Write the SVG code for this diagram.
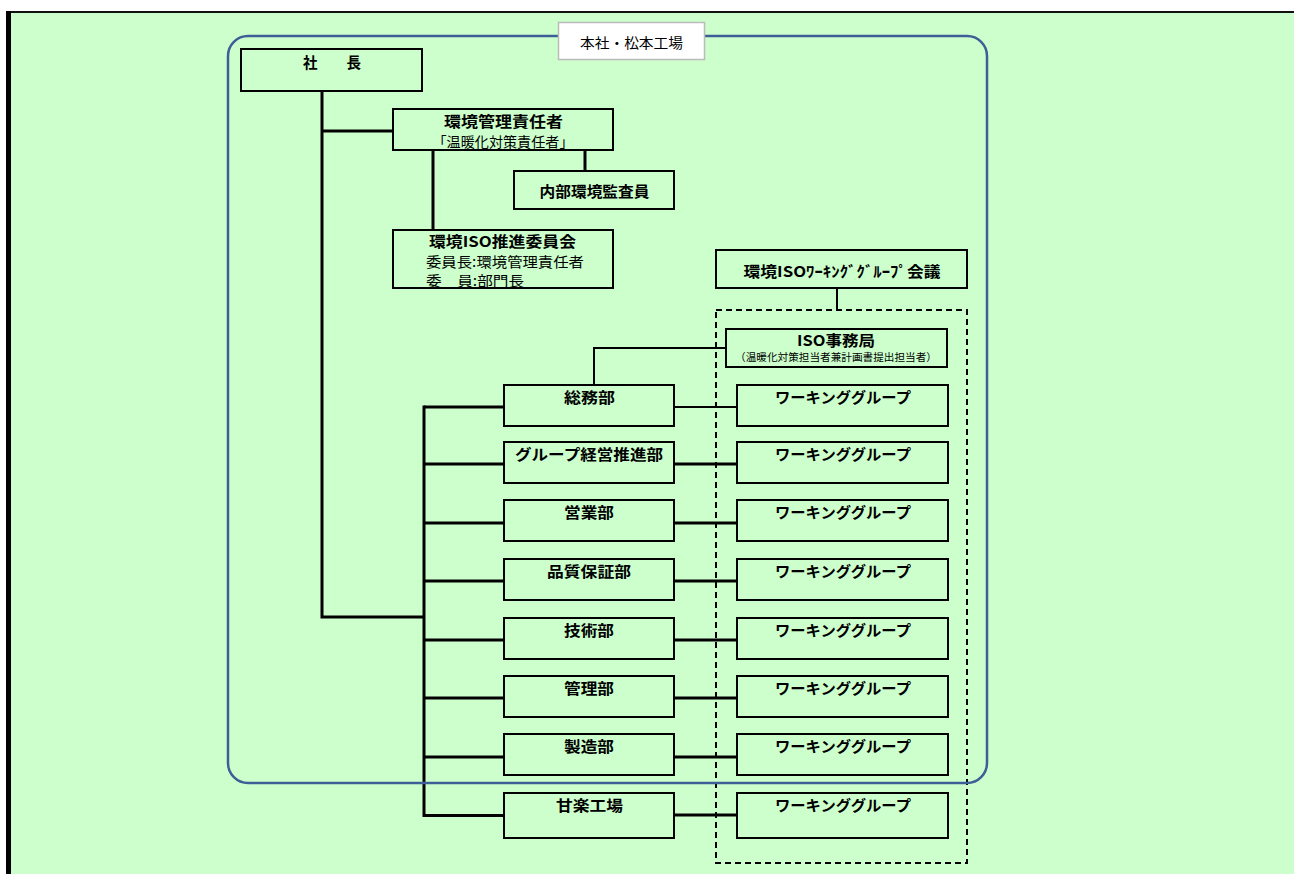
<svg xmlns="http://www.w3.org/2000/svg" width="1294" height="874" viewBox="0 0 1294 874">
<style>
  .box{fill:#CCFFCC;stroke:#000;stroke-width:2}
  .t{font-family:"Noto Sans CJK JP","Noto Sans",sans-serif;fill:#000;text-anchor:middle}
  .b{font-weight:bold;font-size:15px}
  .n{font-weight:normal;font-size:14px}
  .s{font-weight:normal;font-size:10.5px}
  .c3{fill:none;stroke:#000;stroke-width:3}
  .c2{fill:none;stroke:#000;stroke-width:2}
</style>
<rect x="0" y="0" width="1294" height="874" fill="#FFFFFF"/>
<rect x="9" y="12" width="1285" height="862" fill="#CCFFCC"/>
<line x1="7" y1="12" x2="1294" y2="12" stroke="#111" stroke-width="2"/>
<line x1="8.5" y1="11" x2="8.5" y2="874" stroke="#000" stroke-width="5"/>

<g id="connectors">
  <path class="c3" d="M322 92 V617 H424"/>
  <path class="c3" d="M322 131 H392"/>
  <path class="c3" d="M433 151 V229"/>
  <path class="c3" d="M585 151 V170"/>
  <path class="c2" d="M837 289 V309"/>
  <path class="c2" d="M725 348 H594 V384"/>
  <path class="c3" d="M424 405.5 V817"/>
  <path class="c3" d="M424 407 H503"/>
  <path class="c3" d="M424 464 H503"/>
  <path class="c3" d="M424 523 H503"/>
  <path class="c3" d="M424 581 H503"/>
  <path class="c3" d="M424 640 H503"/>
  <path class="c3" d="M424 698 H503"/>
  <path class="c3" d="M424 757 H503"/>
  <path class="c3" d="M424 815.5 H503"/>
  <path class="c2" d="M675 407 H736"/>
  <path class="c3" d="M675 464 H736"/>
  <path class="c3" d="M675 523 H736"/>
  <path class="c3" d="M675 581 H736"/>
  <path class="c3" d="M675 640 H736"/>
  <path class="c3" d="M675 698 H736"/>
  <path class="c3" d="M675 757 H736"/>
  <path class="c3" d="M675 815 H736"/>
</g>

<g id="president">
  <rect class="box" x="241" y="49" width="181" height="42"/>
  <text class="t b" x="332" y="68" textLength="58" lengthAdjust="spacingAndGlyphs">社　　長</text>
</g>
<g id="env-manager">
  <rect class="box" x="393" y="109" width="220" height="41"/>
  <text class="t b" x="503.5" y="127" textLength="119" lengthAdjust="spacingAndGlyphs">環境管理責任者</text>
  <text class="t n" x="503" y="147" textLength="141" lengthAdjust="spacingAndGlyphs">「温暖化対策責任者」</text>
</g>
<g id="internal-auditor">
  <rect class="box" x="514" y="171" width="160" height="38"/>
  <text class="t b" x="594.5" y="197" textLength="110" lengthAdjust="spacingAndGlyphs">内部環境監査員</text>
</g>
<g id="iso-committee">
  <rect class="box" x="393" y="230" width="220" height="58"/>
  <text class="t b" x="502.5" y="247" textLength="147" lengthAdjust="spacingAndGlyphs">環境ISO推進委員会</text>
  <text class="t n" x="426" y="267" style="text-anchor:start" textLength="158" lengthAdjust="spacingAndGlyphs">委員長:環境管理責任者</text>
  <text class="t n" x="426" y="286" style="text-anchor:start" textLength="98" lengthAdjust="spacingAndGlyphs">委　員:部門長</text>
</g>
<g id="wg-meeting">
  <rect class="box" x="716" y="250" width="251" height="38"/>
  <text class="t b" x="842" y="277" textLength="197" lengthAdjust="spacingAndGlyphs">環境ISOﾜｰｷﾝｸﾞｸﾞﾙｰﾌﾟ会議</text>
</g>
<g id="iso-office">
  <rect class="box" x="726" y="329" width="221" height="38"/>
  <text class="t b" x="836" y="346" textLength="78" lengthAdjust="spacingAndGlyphs">ISO事務局</text>
  <text class="t s" x="836" y="361" textLength="202" lengthAdjust="spacingAndGlyphs">（温暖化対策担当者兼計画書提出担当者）</text>
</g>

<g id="dept-somu"><rect class="box" x="504" y="385" width="170" height="41"/><text class="t b" x="589.5" y="403" textLength="51" lengthAdjust="spacingAndGlyphs">総務部</text></g>
<g id="dept-group"><rect class="box" x="504" y="442" width="170" height="41"/><text class="t b" x="589" y="460" textLength="148" lengthAdjust="spacingAndGlyphs">グループ経営推進部</text></g>
<g id="dept-eigyo"><rect class="box" x="504" y="500" width="170" height="41"/><text class="t b" x="589" y="518" textLength="50" lengthAdjust="spacingAndGlyphs">営業部</text></g>
<g id="dept-qa"><rect class="box" x="504" y="559" width="170" height="41"/><text class="t b" x="589" y="577" textLength="84" lengthAdjust="spacingAndGlyphs">品質保証部</text></g>
<g id="dept-gijutsu"><rect class="box" x="504" y="618" width="170" height="41"/><text class="t b" x="589" y="636" textLength="50" lengthAdjust="spacingAndGlyphs">技術部</text></g>
<g id="dept-kanri"><rect class="box" x="504" y="676" width="170" height="41"/><text class="t b" x="589" y="694" textLength="50" lengthAdjust="spacingAndGlyphs">管理部</text></g>
<g id="dept-seizo"><rect class="box" x="504" y="734" width="170" height="41"/><text class="t b" x="589" y="752" textLength="50" lengthAdjust="spacingAndGlyphs">製造部</text></g>
<g id="dept-kanra"><rect class="box" x="504" y="793" width="170" height="45"/><text class="t b" x="589.5" y="811" textLength="67" lengthAdjust="spacingAndGlyphs">甘楽工場</text></g>

<g id="wg-1"><rect class="box" x="737" y="385" width="211" height="41"/><text class="t b" x="843" y="403" textLength="136" lengthAdjust="spacingAndGlyphs">ワーキンググループ</text></g>
<g id="wg-2"><rect class="box" x="737" y="442" width="211" height="41"/><text class="t b" x="843" y="460" textLength="136" lengthAdjust="spacingAndGlyphs">ワーキンググループ</text></g>
<g id="wg-3"><rect class="box" x="737" y="500" width="211" height="41"/><text class="t b" x="843" y="518" textLength="136" lengthAdjust="spacingAndGlyphs">ワーキンググループ</text></g>
<g id="wg-4"><rect class="box" x="737" y="559" width="211" height="41"/><text class="t b" x="843" y="577" textLength="136" lengthAdjust="spacingAndGlyphs">ワーキンググループ</text></g>
<g id="wg-5"><rect class="box" x="737" y="618" width="211" height="41"/><text class="t b" x="843" y="636" textLength="136" lengthAdjust="spacingAndGlyphs">ワーキンググループ</text></g>
<g id="wg-6"><rect class="box" x="737" y="676" width="211" height="41"/><text class="t b" x="843" y="694" textLength="136" lengthAdjust="spacingAndGlyphs">ワーキンググループ</text></g>
<g id="wg-7"><rect class="box" x="737" y="734" width="211" height="41"/><text class="t b" x="843" y="752" textLength="136" lengthAdjust="spacingAndGlyphs">ワーキンググループ</text></g>
<g id="wg-8"><rect class="box" x="737" y="793" width="211" height="45"/><text class="t b" x="843" y="811" textLength="136" lengthAdjust="spacingAndGlyphs">ワーキンググループ</text></g>

<g id="working-group-area">
  <rect x="716" y="310" width="251" height="553" fill="none" stroke="#000" stroke-width="2" stroke-dasharray="6 4"/>
</g>
<g id="site-honsha">
  <rect x="228" y="36" width="759" height="747" rx="20" ry="20" fill="none" stroke="#3D5E96" stroke-width="2.5"/>
  <rect x="558.5" y="22.5" width="146" height="37" fill="#FFFFFF" stroke="#BBBBBB" stroke-width="1.5"/>
  <text class="t n" x="631.5" y="48" textLength="103" lengthAdjust="spacingAndGlyphs">本社・松本工場</text>
</g>
</svg>
